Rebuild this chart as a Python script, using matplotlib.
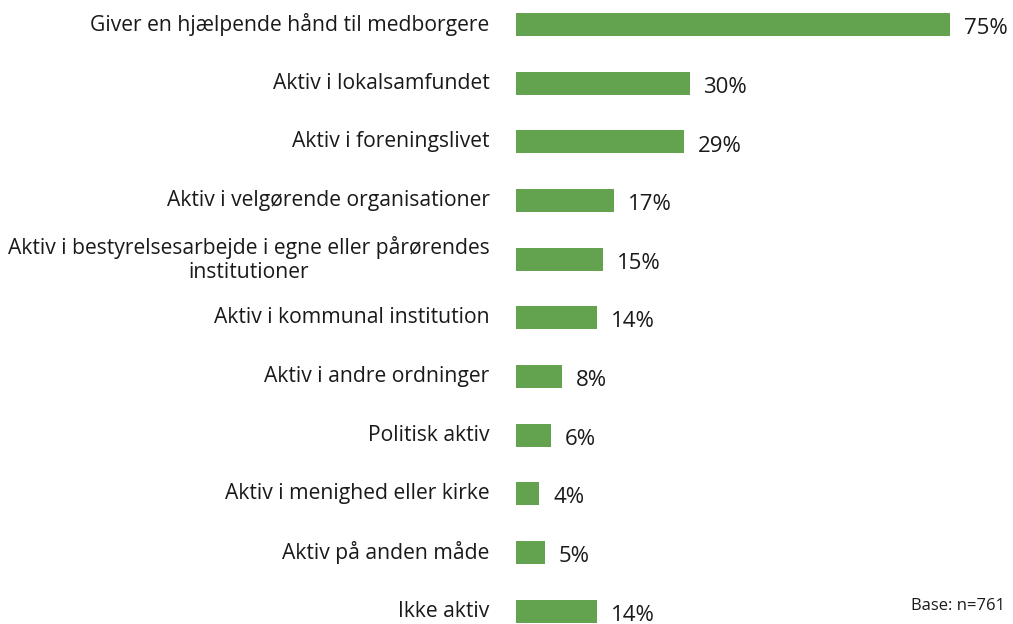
import matplotlib
matplotlib.use("Agg")
from matplotlib import pyplot as plt

categories = [
    "Giver en hjælpende hånd til medborgere",
    "Aktiv i lokalsamfundet",
    "Aktiv i foreningslivet",
    "Aktiv i velgørende organisationer",
    "Aktiv i bestyrelsesarbejde i egne eller pårørendes\ninstitutioner",
    "Aktiv i kommunal institution",
    "Aktiv i andre ordninger",
    "Politisk aktiv",
    "Aktiv i menighed eller kirke",
    "Aktiv på anden måde",
    "Ikke aktiv",
]
values = [75, 30, 29, 17, 15, 14, 8, 6, 4, 5, 14]
base_note = "Base: n=761"

BAR_COLOR = "#63a34f"
plt.rcParams["font.family"] = ["Open Sans", "DejaVu Sans"]

fig = plt.figure(figsize=(10.13, 6.24), dpi=100)
ax = fig.add_axes([516 / 1013, 0, 497 / 1013, 1])

positions = list(range(len(values)))
ax.barh(positions, values, height=0.39, color=BAR_COLOR)

ax.set_xlim(0, 75 * 497 / 434)
ax.set_ylim(10.22, -0.418)
ax.axis("off")

for pos, label, val in zip(positions, categories, values):
    ax.annotate(label, xy=(0, pos), xytext=(-19, 0), textcoords="offset points",
                ha="right", va="center", multialignment="center",
                fontsize=15.2, linespacing=1.2, color="#1a1a1a",
                annotation_clip=False)
    ax.annotate(f"{val}%", xy=(val, pos), xytext=(10, -3), textcoords="offset points",
                ha="left", va="center", fontsize=16, color="#1a1a1a",
                annotation_clip=False)

fig.text(1005 / 1013, 1 - 606 / 624, base_note, ha="right", va="center",
         fontsize=12, color="#1a1a1a")

fig.savefig("out.png", dpi=100)
